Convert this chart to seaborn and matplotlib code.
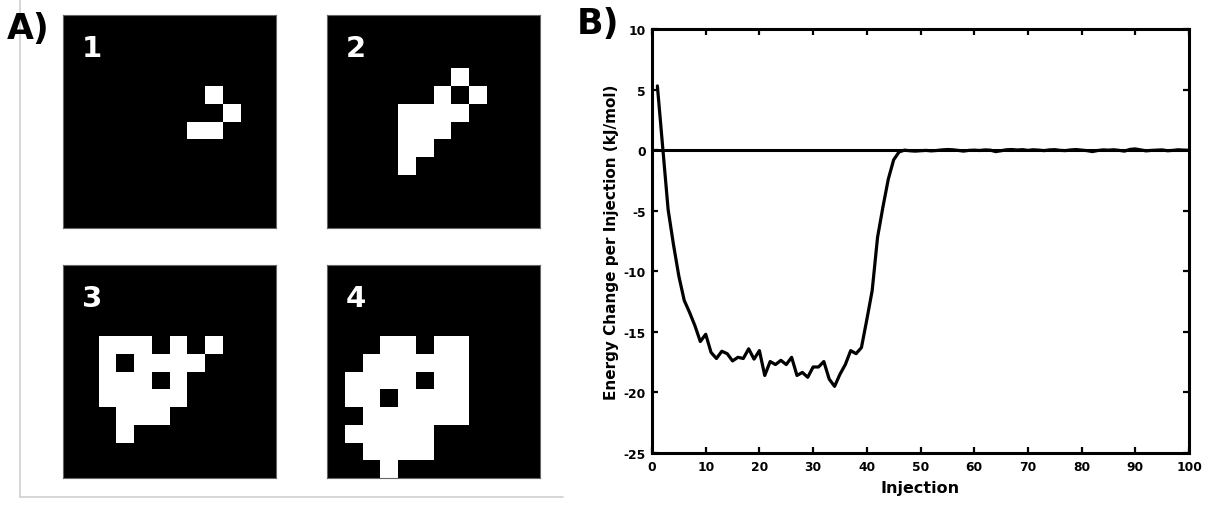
import numpy as np
import pandas as pd
import matplotlib
matplotlib.use("Agg")
import matplotlib.pyplot as plt
from matplotlib.colors import ListedColormap
from matplotlib.lines import Line2D
import seaborn as sns

# ---- Panel A: occupied cells (row, col) on a 12 x 12 lattice ----
GRID_N = 12
frame_labels = ["1", "2", "3", "4"]
cells_1 = [(4, 8), (5, 9), (6, 7), (6, 8)]
cells_2 = [(3, 7), (4, 6), (4, 8),
           (5, 4), (5, 5), (5, 6), (5, 7),
           (6, 4), (6, 5), (6, 6),
           (7, 4), (7, 5),
           (8, 4)]
cells_3 = [(4, 2), (4, 3), (4, 4), (4, 6), (4, 8),
           (5, 2), (5, 4), (5, 5), (5, 6), (5, 7),
           (6, 2), (6, 3), (6, 4), (6, 6),
           (7, 2), (7, 3), (7, 4), (7, 5), (7, 6),
           (8, 3), (8, 4), (8, 5),
           (9, 3)]
cells_4 = [(4, 3), (4, 4), (4, 6), (4, 7),
           (5, 2), (5, 3), (5, 4), (5, 5), (5, 6), (5, 7),
           (6, 1), (6, 2), (6, 3), (6, 4), (6, 6), (6, 7),
           (7, 1), (7, 2), (7, 4), (7, 5), (7, 6), (7, 7),
           (8, 2), (8, 3), (8, 4), (8, 5), (8, 6), (8, 7),
           (9, 1), (9, 2), (9, 3), (9, 4), (9, 5),
           (10, 2), (10, 3), (10, 4), (10, 5),
           (11, 3)]

# ---- Panel B: energy change per injection ----
injection = list(range(1, 101))
energy = [
    5.3, 0.2, -4.9, -7.8, -10.4, -12.4, -13.4, -14.5, -15.8, -15.2,
    -16.7, -17.2, -16.6, -16.8, -17.4, -17.1, -17.2, -16.4, -17.25, -16.55,
    -18.6, -17.45, -17.7, -17.35, -17.7, -17.1, -18.6, -18.35, -18.75, -17.9,
    -17.9, -17.45, -18.9, -19.5, -18.5, -17.7, -16.55, -16.8, -16.3, -14.0,
    -11.6, -7.2, -4.7, -2.4, -0.8, -0.15, 0.0, -0.05, -0.08, -0.05,
    -0.02, -0.06, -0.03, 0.02, 0.05, 0.03, -0.02, -0.08, -0.02, 0.0,
    -0.03, 0.02, 0.0, -0.12, -0.05, 0.03, 0.05, 0.01, 0.04, -0.02,
    0.03, 0.0, -0.04, 0.02, 0.04, -0.02, -0.04, 0.02, 0.05, 0.0,
    -0.04, -0.12, -0.03, 0.02, 0.0, 0.03, -0.02, -0.08, 0.06, 0.1,
    0.02, -0.06, -0.02, 0.0, 0.02, -0.05, -0.02, 0.03, 0.0, -0.02,
]
x_ticks = [0, 10, 20, 30, 40, 50, 60, 70, 80, 90, 100]
y_ticks = [-25, -20, -15, -10, -5, 0, 5, 10]

sns.set_style("ticks")
plt.rcParams["font.family"] = ["DejaVu Sans"]
plt.rcParams["font.weight"] = "bold"
plt.rcParams["text.color"] = "black"
plt.rcParams["axes.labelcolor"] = "black"
plt.rcParams["axes.unicode_minus"] = False

W, H = 1207, 510
fig = plt.figure(figsize=(W / 100, H / 100), dpi=100)


def rect(x0, y0, x1, y1):
    """Pixel box (top-left origin) -> figure fraction rect."""
    return [x0 / W, 1 - y1 / H, (x1 - x0) / W, (y1 - y0) / H]


# light frame around panel A
fig.add_artist(Line2D([20 / W, 20 / W], [1.0, 1 - 498 / H],
                      transform=fig.transFigure, color="#cfcfcf", lw=1.2))
fig.add_artist(Line2D([20 / W, 563 / W], [1 - 498 / H, 1 - 498 / H],
                      transform=fig.transFigure, color="#cfcfcf", lw=1.2))

square_boxes = [(63, 16), (327, 16), (63, 266), (327, 266)]
all_cells = [cells_1, cells_2, cells_3, cells_4]
bw = ListedColormap(["black", "white"])
for (px, py), cells, lab in zip(square_boxes, all_cells, frame_labels):
    ax = fig.add_axes(rect(px, py, px + 213, py + 213))
    mat = np.zeros((GRID_N, GRID_N))
    for r, c in cells:
        mat[r, c] = 1
    sns.heatmap(pd.DataFrame(mat), cmap=bw, vmin=0, vmax=1, cbar=False,
                xticklabels=False, yticklabels=False, ax=ax)
    for s in ax.spines.values():
        s.set_visible(True)
        s.set_color("#666666")
        s.set_linewidth(0.8)
    ax.text(0.088, 0.845, lab, transform=ax.transAxes, color="white",
            fontsize=21, fontweight="bold", ha="left", va="center")

fig.text(7 / W, 1 - 39 / H, "A)", fontsize=25, fontweight="bold",
         color="black", ha="left", va="baseline")
fig.text(577 / W, 1 - 34 / H, "B)", fontsize=25, fontweight="bold",
         color="black", ha="left", va="baseline")

# ---- Panel B axes ----
axb = fig.add_axes(rect(652, 30, 1189, 454))
df = pd.DataFrame({"Injection": injection, "Energy": energy})
axb.axhline(0, color="black", lw=2.2, zorder=1)
sns.lineplot(data=df, x="Injection", y="Energy", color="black", lw=2.3,
             ax=axb, zorder=2)
axb.set_xlim(0, 100)
axb.set_ylim(-25, 10)
axb.set_xticks(x_ticks)
axb.set_yticks(y_ticks)
axb.tick_params(direction="in", length=4, width=1.6, top=True, right=True,
                labelsize=8.8, colors="black")
axb.tick_params(axis="x", pad=5)
axb.tick_params(axis="y", pad=4.5)
for lbl in axb.get_xticklabels() + axb.get_yticklabels():
    lbl.set_fontweight("bold")
for s in axb.spines.values():
    s.set_visible(True)
    s.set_linewidth(2.2)
    s.set_color("black")
axb.set_xlabel("Injection", fontsize=11.5, fontweight="bold", labelpad=5)
axb.set_ylabel("Energy Change per Injection (kJ/mol)", fontsize=11,
               fontweight="bold", labelpad=3)

fig.savefig("out.png", dpi=100)
